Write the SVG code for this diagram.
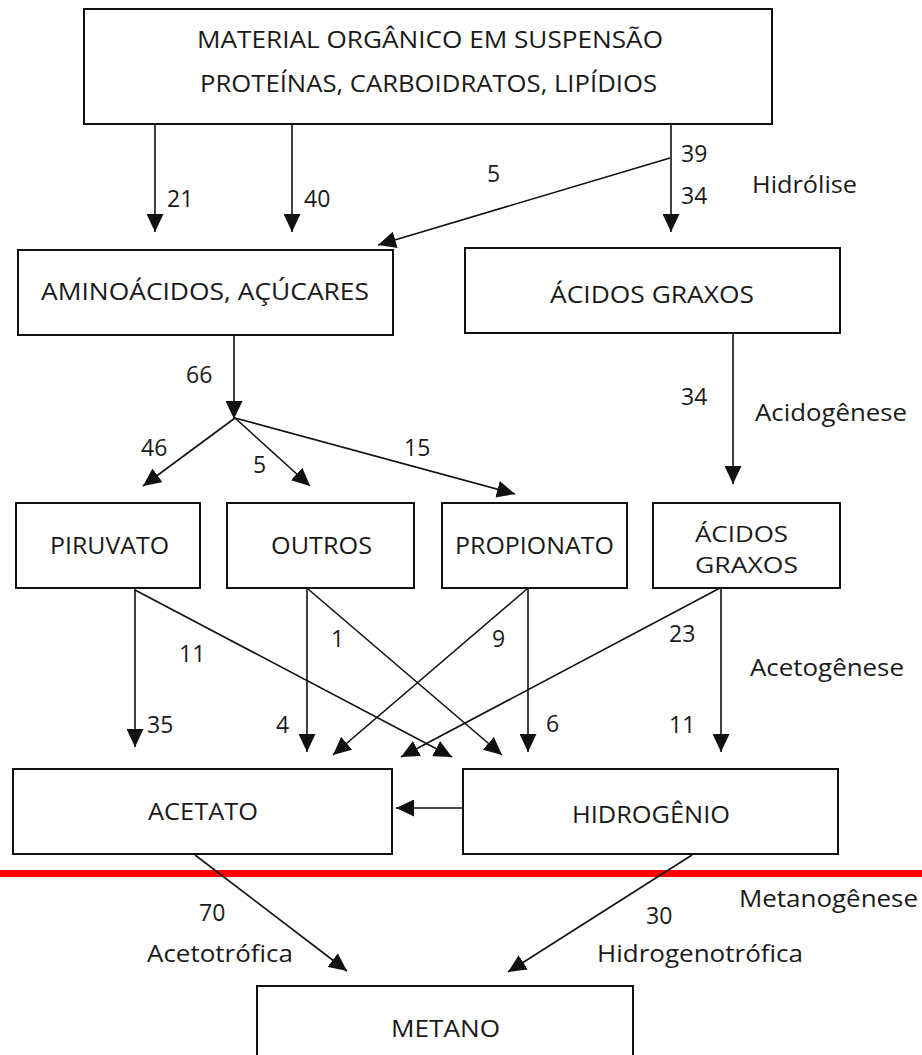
<svg xmlns="http://www.w3.org/2000/svg" width="922" height="1055" viewBox="0 0 922 1055">
<defs>
<style>
.box{fill:#fff;stroke:#111;stroke-width:2}
.t{font-family:"Open Sans","Noto Sans","Liberation Sans",sans-serif;font-size:23px;fill:#1a1a1a}
.s{font-size:22px}
.c{stroke:#111;stroke-width:1.6;fill:none;marker-end:url(#ah)}
</style>
<marker id="ah" viewBox="0 0 18 17" refX="18" refY="8.5" markerWidth="18" markerHeight="17" markerUnits="userSpaceOnUse" orient="auto">
<path d="M0,0 L18,8.5 L0,17 z" fill="#111"/>
</marker>
</defs>
<rect x="0" y="0" width="922" height="1055" fill="#fff"/>
<rect x="0" y="870" width="922" height="7" fill="#f00"/>

<g id="connectors">
<line class="c" x1="155" y1="124" x2="155" y2="232"/>
<line class="c" x1="292" y1="124" x2="292" y2="232"/>
<line class="c" x1="671" y1="124" x2="671" y2="232"/>
<line class="c" x1="670" y1="158" x2="378" y2="245"/>
<line class="c" x1="234" y1="335" x2="234" y2="419"/>
<line class="c" x1="235" y1="418" x2="143" y2="486"/>
<line class="c" x1="235" y1="418" x2="310" y2="486"/>
<line class="c" x1="235" y1="418" x2="515" y2="494"/>
<line class="c" x1="733" y1="333" x2="733" y2="484"/>
<line class="c" x1="135" y1="588" x2="135" y2="747"/>
<line class="c" x1="135" y1="590" x2="452" y2="757"/>
<line class="c" x1="307" y1="588" x2="307" y2="752"/>
<line class="c" x1="308" y1="589" x2="502" y2="755"/>
<line class="c" x1="527" y1="589" x2="333" y2="755"/>
<line class="c" x1="528" y1="588" x2="528" y2="752"/>
<line class="c" x1="720" y1="588" x2="401" y2="757"/>
<line class="c" x1="721" y1="588" x2="721" y2="752"/>
<line class="c" x1="463" y1="808" x2="396" y2="808"/>
<line class="c" x1="195" y1="855" x2="347" y2="971"/>
<line class="c" x1="692" y1="855" x2="508" y2="972"/>
</g>

<g id="labels">
<text class="t" x="167" y="207">21</text>
<text class="t" x="304" y="207">40</text>
<text class="t" x="681" y="162">39</text>
<text class="t" x="681" y="204">34</text>
<text class="t" x="487" y="182">5</text>
<text class="t" x="752" y="193" textLength="105" lengthAdjust="spacingAndGlyphs">Hidrólise</text>
<text class="t" x="186" y="383">66</text>
<text class="t" x="681" y="405">34</text>
<text class="t" x="755" y="421" textLength="152" lengthAdjust="spacingAndGlyphs">Acidogênese</text>
<text class="t" x="141" y="456">46</text>
<text class="t" x="253" y="473">5</text>
<text class="t" x="404" y="456">15</text>
<text class="t" x="179" y="662">11</text>
<text class="t" x="331" y="647">1</text>
<text class="t" x="492" y="647">9</text>
<text class="t" x="669" y="642">23</text>
<text class="t" x="750" y="676" textLength="154" lengthAdjust="spacingAndGlyphs">Acetogênese</text>
<text class="t" x="147" y="733">35</text>
<text class="t" x="276" y="733">4</text>
<text class="t" x="546" y="732">6</text>
<text class="t" x="669" y="733">11</text>
<text class="t" x="739" y="907" textLength="179" lengthAdjust="spacingAndGlyphs">Metanogênese</text>
<text class="t" x="199" y="921">70</text>
<text class="t" x="646" y="924">30</text>
<text class="t" x="147" y="962" textLength="146" lengthAdjust="spacingAndGlyphs">Acetotrófica</text>
<text class="t" x="597" y="962" textLength="206" lengthAdjust="spacingAndGlyphs">Hidrogenotrófica</text>
</g>

<g id="n-material">
<rect class="box" x="84" y="9" width="688" height="115"/>
<text class="t" x="197" y="48" textLength="466" lengthAdjust="spacingAndGlyphs">MATERIAL ORGÂNICO EM SUSPENSÃO</text>
<text class="t" x="200" y="92" textLength="457" lengthAdjust="spacingAndGlyphs">PROTEÍNAS, CARBOIDRATOS, LIPÍDIOS</text>
</g>
<g id="n-aminoacidos">
<rect class="box" x="18" y="250" width="375" height="85"/>
<text class="t" x="41" y="300" textLength="328" lengthAdjust="spacingAndGlyphs">AMINOÁCIDOS, AÇÚCARES</text>
</g>
<g id="n-acidos-graxos-1">
<rect class="box" x="465" y="248" width="375" height="85"/>
<text class="t" x="550" y="303" textLength="204" lengthAdjust="spacingAndGlyphs">ÁCIDOS GRAXOS</text>
</g>
<g id="n-piruvato">
<rect class="box" x="16" y="503" width="184" height="85"/>
<text class="t" x="50" y="554" textLength="119" lengthAdjust="spacingAndGlyphs">PIRUVATO</text>
</g>
<g id="n-outros">
<rect class="box" x="227" y="503" width="187" height="85"/>
<text class="t" x="271" y="554" textLength="101" lengthAdjust="spacingAndGlyphs">OUTROS</text>
</g>
<g id="n-propionato">
<rect class="box" x="442" y="503" width="185" height="85"/>
<text class="t" x="455" y="554" textLength="159" lengthAdjust="spacingAndGlyphs">PROPIONATO</text>
</g>
<g id="n-acidos-graxos-2">
<rect class="box" x="653" y="503" width="187" height="85"/>
<text class="t s" x="695" y="542" textLength="93" lengthAdjust="spacingAndGlyphs">ÁCIDOS</text>
<text class="t s" x="695" y="573" textLength="103" lengthAdjust="spacingAndGlyphs">GRAXOS</text>
</g>
<g id="n-acetato">
<rect class="box" x="13" y="769" width="379" height="85"/>
<text class="t" x="148" y="820" textLength="110" lengthAdjust="spacingAndGlyphs">ACETATO</text>
</g>
<g id="n-hidrogenio">
<rect class="box" x="463" y="769" width="375" height="85"/>
<text class="t" x="572" y="823" textLength="158" lengthAdjust="spacingAndGlyphs">HIDROGÊNIO</text>
</g>
<g id="n-metano">
<rect class="box" x="257" y="986" width="376" height="100"/>
<text class="t" x="391" y="1037" textLength="109" lengthAdjust="spacingAndGlyphs">METANO</text>
</g>
</svg>
